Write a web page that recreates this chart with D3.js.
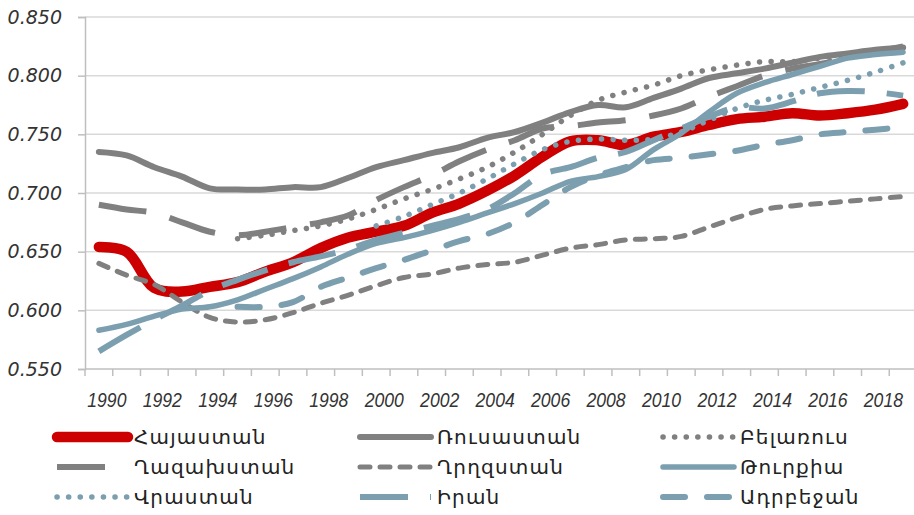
<!DOCTYPE html>
<html>
<head>
<meta charset="utf-8">
<script src="https://cdn.jsdelivr.net/npm/d3@7"></script>
<style>
  body { margin: 0; background: #fff; }
  svg { display: block; }
  .ylab text { font-family: "DejaVu Sans", sans-serif; font-style: italic; font-size: 19px; fill: #333; }
  .xlab text { font-family: "Liberation Sans Narrow", "Liberation Sans", sans-serif; font-style: italic; font-size: 20px; fill: #333; }
  .legend text { font-family: "DejaVu Sans", sans-serif; font-size: 20px; letter-spacing: 1.2px; fill: #222; }
</style>
</head>
<body>
<div id="chart"></div>
<script>
var years = [1990, 1991, 1992, 1993, 1994, 1995, 1996, 1997, 1998, 1999,
    2000, 2001, 2002, 2003, 2004, 2005, 2006, 2007, 2008, 2009,
    2010, 2011, 2012, 2013, 2014, 2015, 2016, 2017, 2018, 2019];
var yTicks = [0.55, 0.60, 0.65, 0.70, 0.75, 0.80, 0.85];

var armenia = [0.654, 0.650, 0.619, 0.616, 0.620, 0.624, 0.633, 0.641, 0.653, 0.662,
    0.667, 0.672, 0.683, 0.691, 0.702, 0.715, 0.731, 0.744, 0.745, 0.741,
    0.748, 0.752, 0.758, 0.763, 0.765, 0.768, 0.766, 0.768, 0.771, 0.776];
var russia = [0.735, 0.732, 0.722, 0.714, 0.704, 0.703, 0.703, 0.705, 0.705, 0.713,
    0.722, 0.728, 0.734, 0.739, 0.747, 0.752, 0.760, 0.769, 0.775, 0.773,
    0.781, 0.789, 0.798, 0.802, 0.806, 0.811, 0.816, 0.819, 0.822, 0.824];
var belarus = [null, null, null, null, null, 0.661, 0.664, 0.668, 0.672, 0.678,
    0.686, 0.695, 0.703, 0.712, 0.722, 0.735, 0.750, 0.766, 0.779, 0.786,
    0.792, 0.800, 0.805, 0.809, 0.812, 0.812, 0.815, 0.818, 0.821, 0.823];
var kazakhstan = [0.690, 0.686, 0.683, 0.675, 0.667, 0.664, 0.667, 0.671, 0.675, 0.681,
    0.694, 0.705, 0.715, 0.727, 0.737, 0.745, 0.755, 0.757, 0.760, 0.762,
    0.766, 0.772, 0.782, 0.791, 0.800, 0.806, 0.810, 0.815, 0.820, 0.825];
var kyrgyzstan = [0.640, 0.630, 0.622, 0.607, 0.594, 0.590, 0.592, 0.598, 0.606, 0.613,
    0.621, 0.628, 0.631, 0.636, 0.639, 0.641, 0.647, 0.653, 0.656, 0.660,
    0.661, 0.663, 0.671, 0.679, 0.686, 0.689, 0.691, 0.693, 0.695, 0.697];
var turkey = [0.583, 0.588, 0.595, 0.601, 0.603, 0.609, 0.618, 0.627, 0.637, 0.648,
    0.657, 0.662, 0.668, 0.675, 0.683, 0.691, 0.700, 0.710, 0.714, 0.720,
    0.737, 0.751, 0.769, 0.785, 0.794, 0.801, 0.808, 0.815, 0.818, 0.820];
var georgia = [null, null, null, null, null, null, null, null, null, null,
    0.672, 0.680, 0.690, 0.700, 0.712, 0.725, 0.737, 0.744, 0.746, 0.745,
    0.746, 0.752, 0.762, 0.772, 0.779, 0.784, 0.790, 0.796, 0.803, 0.811];
var iran = [0.565, 0.579, 0.592, 0.604, 0.617, 0.626, 0.634, 0.641, 0.646, 0.652,
    0.660, 0.666, 0.672, 0.678, 0.686, 0.700, 0.716, 0.722, 0.730, 0.735,
    0.745, 0.755, 0.765, 0.773, 0.772, 0.778, 0.785, 0.787, 0.786, 0.783];
var azerbaijan = [null, null, null, null, null, 0.603, 0.603, 0.607, 0.620, 0.628,
    0.636, 0.643, 0.651, 0.659, 0.665, 0.675, 0.690, 0.705, 0.715, 0.722,
    0.728, 0.730, 0.733, 0.736, 0.741, 0.745, 0.750, 0.752, 0.754, 0.756];

var names = ["Հայաստան", "Ռուսաստան", "Բելառուս", "Ղազախստան", "Ղրղզստան", "Թուրքիա", "Վրաստան", "Իրան", "Ադրբեջան"];

var red = "#cc0000", grey = "#808080", blue = "#7c9fb0";

// drawing order = legend order, later series on top
var series = [
    { name: names[0], values: armenia, color: red, width: 10.5, dash: null, cap: "round" },
    { name: names[1], values: russia, color: grey, width: 6, dash: null, cap: "round" },
    { name: names[2], values: belarus, color: grey, width: 5.5, dash: "0.1,11.5", cap: "round" },
    { name: names[3], values: kazakhstan, color: grey, width: 6, dash: "48,24", cap: "butt" },
    { name: names[4], values: kyrgyzstan, color: grey, width: 5, dash: "10,10", cap: "round" },
    { name: names[5], values: turkey, color: blue, width: 5.5, dash: null, cap: "round" },
    { name: names[6], values: georgia, color: blue, width: 5.5, dash: "0.1,11.5", cap: "round" },
    { name: names[7], values: iran, color: blue, width: 6, dash: "48,22", cap: "butt" },
    { name: names[8], values: azerbaijan, color: blue, width: 6, dash: "22,22", cap: "round" }
];

var W = 914, H = 515;
var margin = { top: 17, left: 85 };
var plotRight = 917, plotBottom = 369;

var svg = d3.select("#chart").append("svg")
    .attr("width", W)
    .attr("height", H);

var x = d3.scaleBand()
    .domain(years)
    .range([margin.left, plotRight]);

var y = d3.scaleLinear()
    .domain([0.55, 0.85])
    .range([plotBottom, margin.top]);

var cx = function(yr) { return x(yr) + x.bandwidth() / 2; };

// grid
svg.append("g")
    .selectAll("line")
    .data(yTicks.slice(1))
    .enter().append("line")
    .attr("x1", margin.left)
    .attr("x2", W)
    .attr("y1", function(d) { return y(d); })
    .attr("y2", function(d) { return y(d); })
    .attr("stroke", "#d9d9d9")
    .attr("stroke-width", 1.5);

// y axis
var yAxis = svg.append("g")
    .attr("class", "ylab")
    .attr("transform", "translate(" + margin.left + ",0)")
    .call(d3.axisLeft(y).tickValues(yTicks).tickFormat(d3.format(".3f")).tickSize(7).tickPadding(16));
yAxis.select(".domain").attr("stroke", "#bfbfbf").attr("stroke-width", 1.5);
yAxis.selectAll(".tick line").attr("stroke", "#bfbfbf").attr("stroke-width", 1.5);

// x axis line + ticks at category boundaries
svg.append("line")
    .attr("x1", margin.left).attr("x2", W)
    .attr("y1", plotBottom).attr("y2", plotBottom)
    .attr("stroke", "#bfbfbf").attr("stroke-width", 1.5);
svg.append("g")
    .selectAll("line")
    .data(years)
    .enter().append("line")
    .attr("x1", function(d) { return x(d); })
    .attr("x2", function(d) { return x(d); })
    .attr("y1", plotBottom)
    .attr("y2", plotBottom + 7)
    .attr("stroke", "#bfbfbf")
    .attr("stroke-width", 1.5);

var xAxis = svg.append("g")
    .attr("class", "xlab")
    .attr("transform", "translate(8," + plotBottom + ")")
    .call(d3.axisBottom(x).tickValues(years.filter(function(d) { return d % 2 === 0; })).tickSize(0).tickPadding(24));
xAxis.select(".domain").remove();
xAxis.selectAll(".tick text").attr("transform", "scale(0.88,1)");

// lines
var line = d3.line()
    .defined(function(d) { return d[1] != null; })
    .x(function(d) { return cx(d[0]); })
    .y(function(d) { return y(d[1]); })
    .curve(d3.curveCatmullRom.alpha(0.5));

svg.append("g")
    .selectAll("path")
    .data(series)
    .enter().append("path")
    .attr("d", function(s) { return line(years.map(function(yr, i) { return [yr, s.values[i]]; })); })
    .attr("fill", "none")
    .attr("stroke", function(s) { return s.color; })
    .attr("stroke-width", function(s) { return s.width; })
    .attr("stroke-dasharray", function(s) { return s.dash; })
    .attr("stroke-linecap", function(s) { return s.cap; })
    .attr("stroke-linejoin", "round");

// legend: 3 columns x 3 rows
var legCols = [57, 360, 663], legRows = [437, 467, 497];
var leg = svg.append("g").attr("class", "legend")
    .selectAll("g")
    .data(series)
    .enter().append("g")
    .attr("transform", function(s, i) { return "translate(" + legCols[i % 3] + "," + legRows[Math.floor(i / 3)] + ")"; });
leg.append("line")
    .attr("x1", 0).attr("x2", 71)
    .attr("y1", 0).attr("y2", 0)
    .attr("stroke", function(s) { return s.color; })
    .attr("stroke-width", function(s) { return s.width; })
    .attr("stroke-dasharray", function(s) { return s.dash; })
    .attr("stroke-linecap", function(s) { return s.cap; });
leg.append("text")
    .attr("x", 77)
    .attr("y", 0)
    .attr("dy", "0.35em")
    .text(function(s) { return s.name; });
</script>
</body>
</html>
